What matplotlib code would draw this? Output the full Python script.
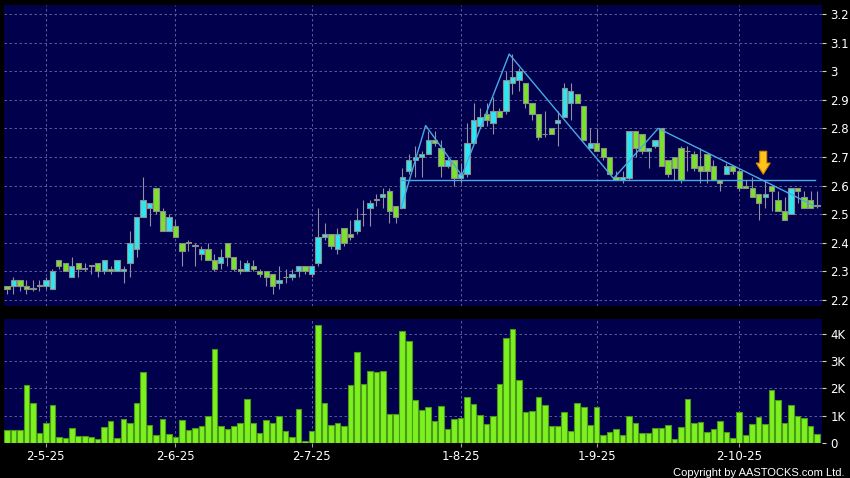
import matplotlib
matplotlib.use("Agg")
import matplotlib.pyplot as plt
import numpy as np

# daily candles (index = trading day)
opens = [2.25, 2.25, 2.27, 2.25, 2.24, 2.25, 2.25, 2.24, 2.34, 2.33,
         2.28, 2.33, 2.31, 2.32, 2.33, 2.30, 2.31, 2.30, 2.30, 2.33,
         2.38, 2.49, 2.52, 2.59, 2.51, 2.44, 2.46, 2.40, 2.40, 2.39,
         2.36, 2.38, 2.34, 2.33, 2.40, 2.35, 2.31, 2.30, 2.32, 2.30,
         2.30, 2.29, 2.26, 2.28, 2.28, 2.30, 2.32, 2.29, 2.33, 2.42,
         2.43, 2.38, 2.45, 2.43, 2.44, 2.50, 2.52, 2.55, 2.56, 2.58,
         2.53, 2.52, 2.65, 2.69, 2.70, 2.71, 2.76, 2.73, 2.67, 2.69,
         2.625, 2.64, 2.75, 2.81, 2.85, 2.82, 2.86, 2.86, 2.96, 2.97,
         2.96, 2.89, 2.85, 2.78, 2.80, 2.82, 2.84, 2.89, 2.92, 2.88,
         2.73, 2.75, 2.73, 2.70, 2.63, 2.62, 2.625, 2.79, 2.78, 2.72,
         2.74, 2.80, 2.69, 2.70, 2.73, 2.72, 2.71, 2.67, 2.71, 2.67,
         2.62, 2.64, 2.67, 2.65, 2.60, 2.59, 2.57, 2.56, 2.60, 2.55,
         2.51, 2.50, 2.59, 2.56, 2.55, 2.53]
highs = [2.25, 2.28, 2.27, 2.27, 2.27, 2.27, 2.28, 2.31, 2.34, 2.33,
         2.35, 2.33, 2.33, 2.32, 2.33, 2.34, 2.32, 2.34, 2.32, 2.44,
         2.49, 2.63, 2.54, 2.59, 2.52, 2.50, 2.48, 2.40, 2.41, 2.40,
         2.39, 2.40, 2.36, 2.38, 2.40, 2.35, 2.34, 2.34, 2.34, 2.31,
         2.30, 2.29, 2.32, 2.31, 2.31, 2.32, 2.32, 2.32, 2.52, 2.47,
         2.43, 2.45, 2.45, 2.48, 2.52, 2.55, 2.55, 2.57, 2.59, 2.59,
         2.53, 2.66, 2.71, 2.74, 2.72, 2.79, 2.79, 2.76, 2.70, 2.69,
         2.68, 2.82, 2.89, 2.87, 2.89, 2.91, 2.87, 3.00, 3.06, 3.01,
         2.96, 2.89, 2.85, 2.86, 2.80, 2.86, 2.96, 2.96, 2.92, 2.88,
         2.80, 2.80, 2.73, 2.70, 2.65, 2.65, 2.79, 2.79, 2.78, 2.73,
         2.76, 2.80, 2.69, 2.70, 2.74, 2.74, 2.72, 2.73, 2.71, 2.69,
         2.62, 2.68, 2.67, 2.66, 2.62, 2.63, 2.57, 2.62, 2.60, 2.58,
         2.56, 2.59, 2.59, 2.58, 2.58, 2.58]
lows = [2.22, 2.22, 2.23, 2.22, 2.23, 2.23, 2.24, 2.24, 2.31, 2.30,
        2.28, 2.28, 2.30, 2.29, 2.28, 2.29, 2.29, 2.30, 2.26, 2.28,
        2.35, 2.49, 2.46, 2.50, 2.44, 2.44, 2.42, 2.32, 2.37, 2.32,
        2.34, 2.34, 2.30, 2.31, 2.32, 2.30, 2.29, 2.30, 2.30, 2.28,
        2.25, 2.22, 2.24, 2.26, 2.27, 2.28, 2.29, 2.28, 2.32, 2.41,
        2.38, 2.36, 2.39, 2.41, 2.43, 2.46, 2.46, 2.53, 2.52, 2.47,
        2.47, 2.52, 2.64, 2.63, 2.63, 2.71, 2.74, 2.63, 2.66, 2.60,
        2.61, 2.63, 2.75, 2.80, 2.81, 2.78, 2.84, 2.85, 2.92, 2.93,
        2.87, 2.83, 2.76, 2.77, 2.78, 2.74, 2.84, 2.83, 2.89, 2.76,
        2.73, 2.72, 2.69, 2.64, 2.62, 2.61, 2.62, 2.70, 2.71, 2.66,
        2.73, 2.67, 2.63, 2.62, 2.61, 2.65, 2.65, 2.61, 2.61, 2.62,
        2.58, 2.64, 2.64, 2.58, 2.59, 2.56, 2.48, 2.52, 2.51, 2.51,
        2.48, 2.50, 2.54, 2.52, 2.52, 2.52]
closes = [2.24, 2.27, 2.25, 2.24, 2.24, 2.25, 2.27, 2.30, 2.32, 2.30,
          2.32, 2.31, 2.31, 2.32, 2.30, 2.34, 2.30, 2.34, 2.31, 2.40,
          2.49, 2.55, 2.54, 2.51, 2.44, 2.49, 2.42, 2.37, 2.40, 2.39,
          2.38, 2.34, 2.31, 2.35, 2.35, 2.31, 2.30, 2.33, 2.31, 2.29,
          2.28, 2.25, 2.27, 2.28, 2.29, 2.32, 2.30, 2.32, 2.42, 2.43,
          2.39, 2.43, 2.40, 2.42, 2.48, 2.50, 2.54, 2.55, 2.57, 2.51,
          2.49, 2.63, 2.69, 2.70, 2.71, 2.76, 2.75, 2.67, 2.69, 2.625,
          2.64, 2.75, 2.83, 2.84, 2.83, 2.86, 2.84, 2.97, 2.98, 3.00,
          2.89, 2.85, 2.77, 2.78, 2.78, 2.83, 2.94, 2.93, 2.89, 2.76,
          2.75, 2.72, 2.70, 2.64, 2.62, 2.63, 2.79, 2.73, 2.72, 2.73,
          2.76, 2.67, 2.64, 2.66, 2.62, 2.72, 2.66, 2.65, 2.65, 2.62,
          2.61, 2.67, 2.65, 2.59, 2.59, 2.56, 2.54, 2.57, 2.58, 2.51,
          2.48, 2.59, 2.58, 2.52, 2.52, 2.53]
# volume in thousands
volume_k = [0.49, 0.49, 0.49, 2.12, 1.46, 0.38, 0.72, 1.39, 0.23, 0.17,
            0.56, 0.24, 0.27, 0.22, 0.13, 0.59, 0.82, 0.20, 0.88, 0.74,
            1.46, 2.60, 0.67, 0.29, 0.89, 0.34, 0.21, 0.83, 0.48, 0.56,
            0.61, 0.98, 3.44, 0.62, 0.52, 0.63, 0.72, 1.61, 0.74, 0.38,
            0.84, 0.74, 0.98, 0.43, 0.21, 1.24, 0.07, 0.45, 4.33, 1.46,
            0.67, 0.73, 0.63, 2.13, 3.35, 2.18, 2.66, 2.59, 2.63, 1.07,
            1.07, 4.11, 3.73, 1.59, 1.22, 1.32, 0.80, 1.34, 0.51, 0.89,
            0.90, 1.68, 1.43, 1.02, 0.70, 1.00, 2.17, 3.84, 4.18, 2.33,
            1.15, 1.18, 1.70, 1.39, 0.62, 0.62, 1.12, 0.45, 1.45, 1.32,
            0.67, 1.32, 0.28, 0.41, 0.51, 0.30, 0.98, 0.72, 0.35, 0.35,
            0.55, 0.55, 0.66, 0.16, 0.60, 1.61, 0.72, 0.78, 0.41, 0.50,
            0.80, 0.40, 0.18, 1.13, 0.30, 0.68, 0.94, 0.71, 1.94, 1.59,
            0.74, 1.39, 0.99, 0.91, 0.62, 0.34]

tick_idx = [6, 26, 47, 70, 91, 113]
tick_labels = ["2-5-25", "2-6-25", "2-7-25", "1-8-25", "1-9-25", "2-10-25"]

# hand-drawn pattern lines
trend_x = [60.8, 64.6, 70.2, 77.5, 93.6, 100.5, 124.5]
trend_y = [2.52, 2.81, 2.635, 3.06, 2.625, 2.80, 2.53]
neck_x = [60.6, 124.7]
neck_y = [2.62, 2.62]
arrow_x = 116.7
arrow_top, arrow_tip = 2.72, 2.64

NAVY = '#00004d'
UP = '#2ee6f2'
DOWN = '#7ae22a'
GRID = '#6a6aa0'

o = np.array(opens)
c = np.array(closes)
x = np.arange(len(o))

fig = plt.figure(figsize=(8.5, 4.78), dpi=100, facecolor='black')
ax = fig.add_axes([4/850, 1 - 306/478, 818/850, 301/478])
axv = fig.add_axes([4/850, 1 - 443/478, 818/850, 124/478])

for a in (ax, axv):
    a.set_facecolor(NAVY)
    for s in a.spines.values():
        s.set_visible(False)
    a.set_xlim(-0.46, 125.77)
    a.yaxis.tick_right()
    a.tick_params(axis='y', colors='#d0d0d0', labelcolor='white', labelsize=8.5,
                  length=3, width=0.8, pad=3)
    a.set_xticks(tick_idx)
    a.grid(True, color=GRID, linestyle=(0, (3, 3)), linewidth=0.6)
    a.set_axisbelow(True)

# price panel
ax.vlines(x, lows, highs, color='#9090a0', linewidth=0.8, zorder=2)
body_lo = np.minimum(o, c)
body_h = np.maximum(np.abs(c - o), 0.002)
colors = [UP if cc > oo else DOWN for oo, cc in zip(o, c)]
ax.bar(x, body_h, bottom=body_lo, width=0.82, color=colors,
       edgecolor='#8c8c8c', linewidth=0.8, zorder=3)
ax.plot(trend_x, trend_y, color='#4aa8e8', linewidth=1.0, zorder=4)
ax.plot(neck_x, neck_y, color='#4aa8e8', linewidth=1.0, zorder=4)
ax.annotate('', xy=(arrow_x, arrow_tip), xytext=(arrow_x, arrow_top),
            arrowprops=dict(arrowstyle='simple,head_width=1.0,head_length=0.8,tail_width=0.5',
                            fc='#ffc41a', ec='#d88a00', lw=0.8,
                            shrinkA=0, shrinkB=0), zorder=5)
ax.set_ylim(2.179, 3.2315)
yt = np.round(np.arange(2.2, 3.21, 0.1), 1)
ax.set_yticks(yt)
ax.set_yticklabels([f'{v:g}' for v in yt])
ax.tick_params(axis='x', length=0, labelbottom=False)

# volume panel
axv.bar(x, volume_k, width=0.86, color='#7df020', edgecolor='#4a9a18',
        linewidth=0.8, zorder=3)
axv.set_ylim(0, 4.55)
axv.set_yticks([0, 1, 2, 3, 4])
axv.set_yticklabels(['0', '1K', '2K', '3K', '4K'])
axv.set_xticklabels(tick_labels)
axv.tick_params(axis='x', colors='#a0a0a0', labelcolor='white', labelsize=8.5,
                length=3, width=0.8, pad=2)

fig.text(0.994, 0.0, 'Copyright by AASTOCKS.com Ltd.', color='white',
         fontsize=8, family='Liberation Sans', ha='right', va='bottom')

fig.savefig('out.png', dpi=100, facecolor='black')
